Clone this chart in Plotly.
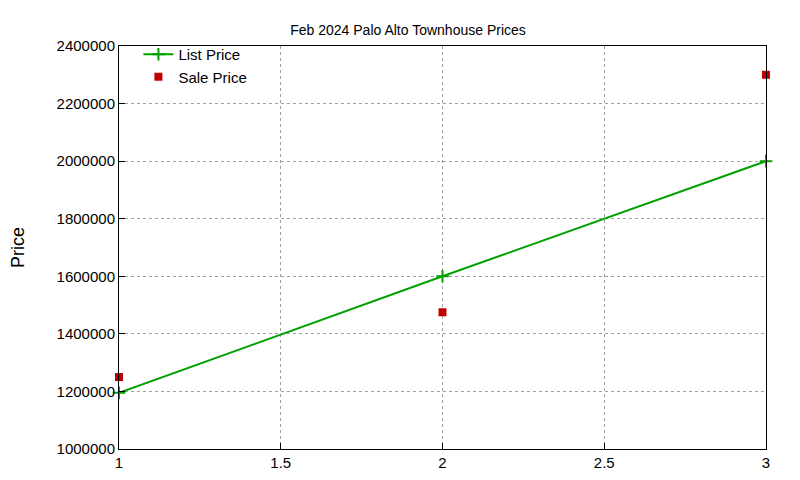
import plotly.graph_objects as go

units = [1, 2, 3]
list_price = [1195000, 1600000, 2000000]
sale_price = [1250000, 1475000, 2300000]

fig = go.Figure()
fig.add_trace(go.Scatter(x=units, y=list_price, mode='lines+markers', name='List Price',
                         line=dict(color='#00a000', width=2),
                         marker=dict(symbol='cross-thin', size=9, line=dict(color='#00a000', width=2)),
                         cliponaxis=False))
fig.add_trace(go.Scatter(x=units, y=sale_price, mode='markers', name='Sale Price',
                         marker=dict(symbol='square', size=8, color='#c00000'),
                         cliponaxis=False))

grid = dict(showgrid=True, gridcolor='#a0a0a0', griddash='dot', gridwidth=1,
            showline=True, linecolor='black', mirror=True, ticks='inside',
            tickcolor='black', ticklen=6, zeroline=False)
fig.update_layout(
    width=800, height=480,
    title=dict(text='Feb 2024 Palo Alto Townhouse Prices', x=0.5, y=0.965, font=dict(size=14)),
    font=dict(family='Liberation Sans, Arial', size=15, color='black'),
    plot_bgcolor='white', paper_bgcolor='white',
    margin=dict(l=111, r=42, t=38, b=39),
    xaxis=dict(range=[1, 3], dtick=0.5, **grid),
    yaxis=dict(range=[1000000, 2400000], dtick=200000, tickformat='d', automargin=False,
               title=dict(text='Price', standoff=38), **grid),
    legend=dict(x=0.03, y=1.02, xanchor='left', yanchor='top', bgcolor='rgba(0,0,0,0)'),
    showlegend=True,
)
fig.write_html("out.html")
